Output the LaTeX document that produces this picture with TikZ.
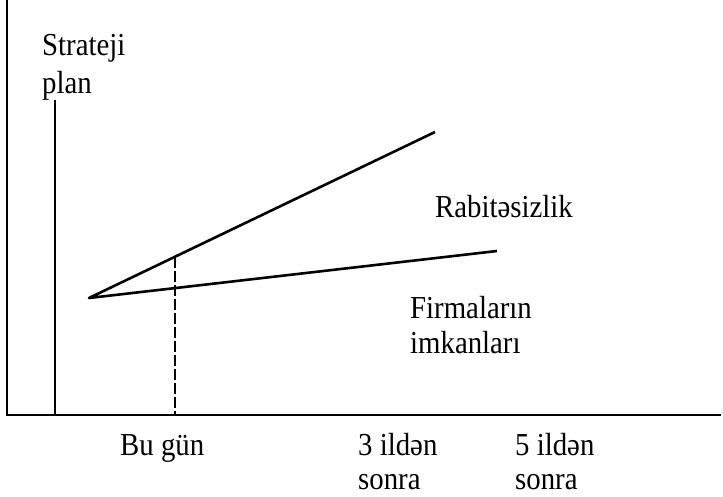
\documentclass[tikz,border=0pt]{standalone}
\usepackage{fontspec}
\setmainfont[FakeStretch=0.9]{Liberation Serif}
\begin{document}
\begin{tikzpicture}[x=1pt,y=-1pt,
  ln/.style={line width=2.6pt},
  lbl/.style={inner sep=0pt,anchor=base west,align=left,font=\fontsize{32}{36}\selectfont}]
\useasboundingbox (0,0) rectangle (723,496);
% axes
\coordinate (top) at (7,0);
\coordinate (corner) at (7,415);
\coordinate (right) at (721,415);
\draw[ln] (top) -- (corner) -- (right);
% strategy plan line
\coordinate (sp1) at (55,100);
\coordinate (sp2) at (55,415);
\draw[ln] (sp1) -- (sp2);
% lines
\coordinate (o) at (89,298);
\coordinate (up) at (435,132);
\coordinate (lo) at (497,251);
\draw[ln,line join=round] (up) -- (o) -- (lo);
% dashed
\coordinate (d1) at (175,256.5);
\coordinate (d2) at (175,415);
\draw[line width=2.2pt,dash pattern=on 11pt off 3pt] (d1) -- (d2);
% labels
\node[lbl,font=\fontsize{32}{38}\selectfont] (strat) at (42,93) {Strateji\\plan};
\node[lbl] (rab) at (435,217) {Rabitəsizlik};
\node[lbl,font=\fontsize{32}{35}\selectfont] (firm) at (410,353) {Firmaların\\imkanları};
\node[lbl] (bu) at (120,455) {Bu gün};
\node[lbl,font=\fontsize{32}{34}\selectfont] (t3) at (358,489) {3 ildən\\sonra};
\node[lbl,font=\fontsize{32}{34}\selectfont] (t5) at (515,489) {5 ildən\\sonra};
\end{tikzpicture}
\end{document}
